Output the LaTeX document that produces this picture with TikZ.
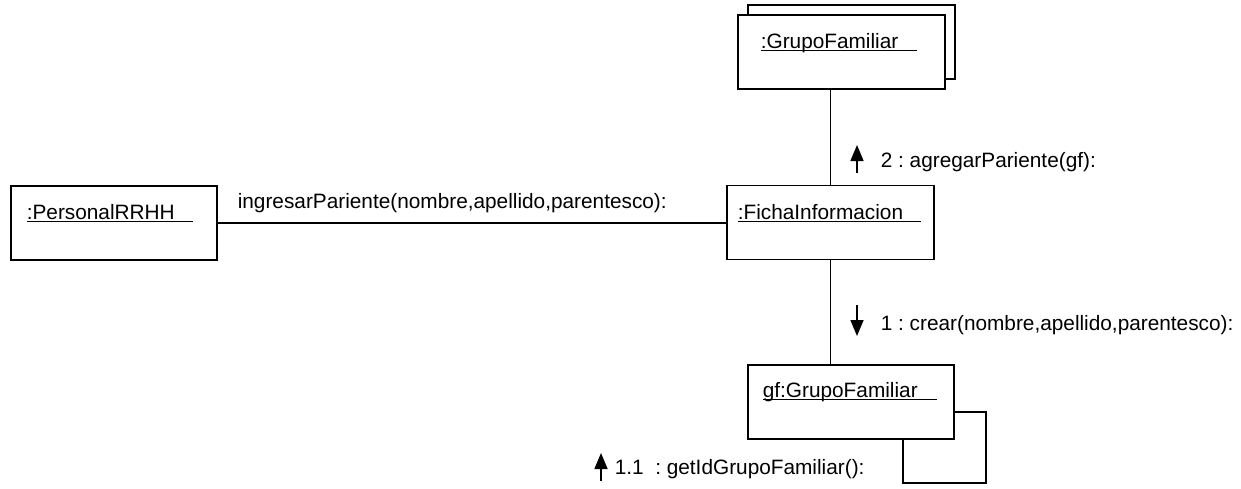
\documentclass[tikz,border=0pt]{standalone}
\usepackage{fontspec}
\setmainfont{Liberation Sans}
\usetikzlibrary{arrows.meta}
\frenchspacing
% object name underlined to a given length
\newcommand{\objname}[2]{\rlap{\rule[-3pt]{#2}{1.2pt}}#1}
\begin{document}
\begin{tikzpicture}[x=1pt,y=-1pt,line width=1.6pt,
  objbox/.style={draw,fill=white,rectangle,inner sep=0pt,minimum width=207pt,minimum height=74pt},
  txt/.style={inner sep=0pt,anchor=base west,font=\fontsize{20.8}{24}\selectfont},
  msgarrow/.style={line width=1.6pt,-{Triangle[length=16pt,width=13pt]}}]
\useasboundingbox (0,0) rectangle (1241,488);

% objects
\node[objbox,minimum width=206pt] (pers) at (114,223) {};
\node[objbox] (ficha) at (830.5,222.5) {};
\node[objbox] (grpback) at (851.5,42) {};
\node[objbox] (grp) at (841.5,52) {};
\node[objbox,minimum width=206pt] (gf) at (851,402) {};

% object names
\node[txt] (persname) at (26,219) {\objname{:PersonalRRHH}{166pt}};
\node[txt] (fichaname) at (737,219) {\objname{:FichaInformacion}{183pt}};
\node[txt] (grpname) at (760,48) {\objname{:GrupoFamiliar}{156pt}};
\node[txt] (gfname) at (762,397) {\objname{gf:GrupoFamiliar}{174pt}};

% links
\draw (pers.east) -- (ficha.west |- pers.east);
\draw (ficha.north) -- (ficha.north |- grp.south);
\draw (ficha.south) -- (ficha.south |- gf.north);
\coordinate (loopA) at (986,483);
\coordinate (loopB) at (903,483);
\draw ([yshift=-10pt]gf.east) -| (loopA) -- (loopB) -- (loopB |- gf.south);

% messages
\node[txt] (m0) at (237,208) {ingresarPariente(nombre,apellido,parentesco):};
\node[txt] (m2) at (880,167) {2 : agregarPariente(gf):};
\node[txt] (m1) at (880,330) {1 : crear(nombre,apellido,parentesco):};
\node[txt] (m11) at (614,474) {1.1\ \ : getIdGrupoFamiliar():};

\coordinate (a2s) at (857,173);
\coordinate (a2e) at (857,145);
\coordinate (a1s) at (857,305);
\coordinate (a1e) at (857,336);
\coordinate (a11s) at (601,481);
\coordinate (a11e) at (601,453);
\draw[msgarrow] (a2s) -- (a2e);
\draw[msgarrow] (a1s) -- (a1e);
\draw[msgarrow] (a11s) -- (a11e);
\end{tikzpicture}
\end{document}
